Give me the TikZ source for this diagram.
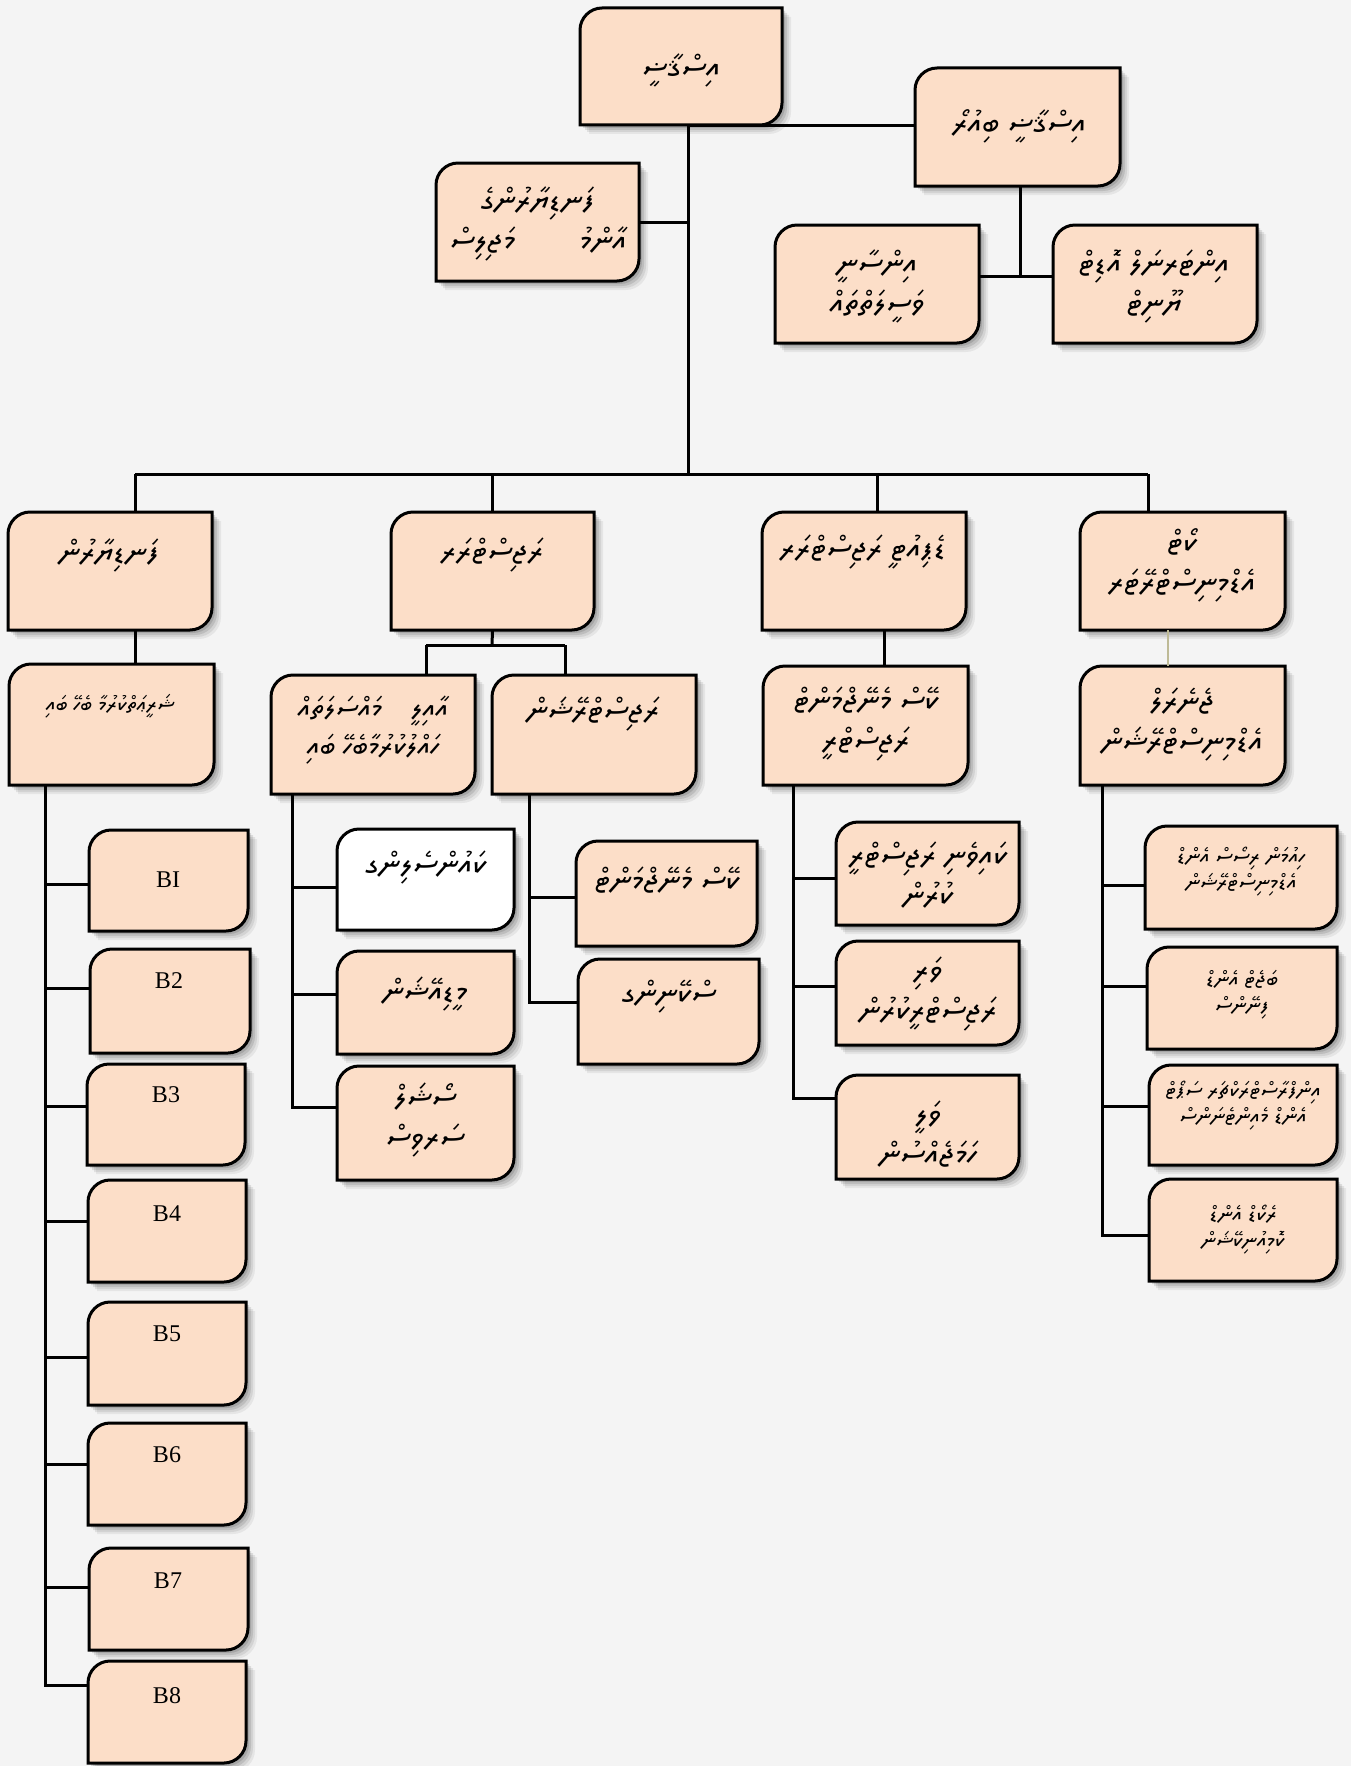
\documentclass[tikz,border=0pt]{standalone}
\usepackage{fontspec}
\setmainfont{Liberation Serif}
\IfFontExistsTF{FreeSerif.otf}{\newfontfamily\thaana{FreeSerif.otf}}{%
  \IfFontExistsTF{Noto Sans Thaana}{\newfontfamily\thaana{Noto Sans Thaana}}{\newfontfamily\thaana{DejaVu Sans}}}
\definecolor{pch}{RGB}{252,222,200}
\definecolor{bgc}{RGB}{244,244,244}
\definecolor{olv}{RGB}{190,186,150}
\newcommand\obox[6][pch]{%
  \foreach \s/\o in {9/0.06,7/0.08,5/0.10,3/0.12}{%
    \fill[black,opacity=\o,shift={(\s,\s)}] ({#3},{#4+22}) .. controls ({#3},{#4+10}) and ({#3+10},{#4}) .. ({#3+22},{#4}) -- ({#5},{#4}) -- ({#5},{#6-22}) .. controls ({#5},{#6-10}) and ({#5-10},{#6}) .. ({#5-22},{#6}) -- ({#3},{#6}) -- cycle;}
  \draw[bx,fill=#1] ({#3},{#4+22}) .. controls ({#3},{#4+10}) and ({#3+10},{#4}) .. ({#3+22},{#4}) -- ({#5},{#4}) -- ({#5},{#6-22}) .. controls ({#5},{#6-10}) and ({#5-10},{#6}) .. ({#5-22},{#6}) -- ({#3},{#6}) -- cycle;
  \node[inner sep=0pt,minimum width={0.5pt*(#5-#3)},minimum height={0.5pt*(#6-#4)}] (#2) at ({(#3+#5)/2},{(#4+#6)/2}) {};}
\tikzset{
  bx/.style={line width=1.5pt,draw=black},
  cn/.style={line width=1.5pt,draw=black},
  tx/.style={font=\thaana\fontsize{16}{20}\selectfont,align=center,inner sep=0pt},
  txm/.style={font=\thaana\fontsize{14.5}{19}\selectfont,align=center,inner sep=0pt},
  txs/.style={font=\thaana\fontsize{11}{13}\selectfont,align=center,inner sep=0pt},
  bl/.style={font=\fontsize{12}{14}\selectfont,inner sep=0pt}}
\begin{document}
\begin{tikzpicture}[x=0.5pt,y=-0.5pt]
\fill[bgc] (0,0) rectangle (1351,1766);
\useasboundingbox (0,0) rectangle (1351,1766);
% junctions
\coordinate (j0) at (688,474);
\coordinate (jr) at (1020,276);
\coordinate (mbL) at (135,474);
\coordinate (mbR) at (1148,474);
\coordinate (d3x) at (877,474);
\coordinate (s2) at (492,645);
\coordinate (s2a) at (426,645);
\coordinate (s2b) at (565,645);
\coordinate (d3y) at (884,630);
\coordinate (d4y) at (1168,630);
% boxes
\obox{T0}{580}{8}{782}{125}
\obox{R1}{915}{68}{1120}{186}
\obox{L1}{436}{163}{639}{281}
\obox{R2a}{775}{225}{979}{343}
\obox{R2b}{1053}{225}{1257}{343}
\obox{D1}{8}{512}{212}{630}
\obox{D2}{391}{512}{594}{630}
\obox{D3}{762}{512}{966}{630}
\obox{D4}{1080}{512}{1285}{630}
\obox{E1}{9}{664}{214}{785}
\obox{E2a}{271}{675}{475}{794}
\obox{E2b}{492}{675}{696}{794}
\obox{E3}{763}{666}{968}{785}
\obox{E4}{1080}{666}{1285}{785}
\obox[white]{F1}{337}{829}{514}{930}
\obox{F2}{337}{951}{514}{1054}
\obox{F3}{337}{1066}{514}{1180}
\obox{G1}{576}{841}{757}{946}
\obox{G2}{578}{959}{759}{1064}
\obox{H1}{836}{822}{1019}{925}
\obox{H2}{836}{941}{1019}{1045}
\obox{H3}{836}{1075}{1019}{1179}
\obox{I1}{1145}{826}{1337}{929}
\obox{I2}{1147}{947}{1337}{1049}
\obox{I3}{1149}{1065}{1337}{1165}
\obox{I4}{1149}{1179}{1337}{1281}
\obox{B1}{89}{830}{248}{931}
\obox{B2}{90}{949}{250}{1053}
\obox{B3}{87}{1064}{245}{1165}
\obox{B4}{88}{1180}{246}{1282}
\obox{B5}{88}{1302}{246}{1405}
\obox{B6}{88}{1423}{246}{1525}
\obox{B7}{89}{1548}{248}{1650}
\obox{B8}{88}{1661}{246}{1763}
% lines
\draw[cn] (T0.south -| j0) -- (j0);
\draw[cn] (T0.south -| j0) -- (T0.south -| R1.west);
\draw[cn] (L1.east) -- (L1.east -| j0);
\draw[cn] (R1.south -| jr) -- (jr);
\draw[cn] (R2a.east |- jr) -- (R2b.west |- jr);
\draw[cn] (mbL) -- (mbR);
\draw[cn] (mbL) -- (D1.north -| mbL);
\draw[cn] (j0 -| D2.north) -- (D2.north);
\draw[cn] (d3x) -- (D3.north -| d3x);
\draw[cn] (mbR) -- (D4.north -| mbR);
\draw[cn] (D1.south -| mbL) -- (E1.north -| mbL);
\draw[cn] (D2.south) -- (s2);
\draw[cn] (s2a) -- (s2b);
\draw[cn] (s2a) -- (E2a.north -| s2a);
\draw[cn] (s2b) -- (E2b.north -| s2b);
\draw[cn] (D3.south -| d3y) -- (E3.north -| d3y);
\draw[line width=1pt,olv] (D4.south -| d4y) -- (E4.north -| d4y);
% group E1
\draw[cn] (E1.south -| 45,0) -- (45,1685) -- (B8.west |- 45,1685);
\foreach \b/\yy in {B1/884,B2/988,B3/1106,B4/1221,B5/1357,B6/1464,B7/1587}{\draw[cn] (45,\yy) -- (\b.west |- 45,\yy);}
% group E2a
\draw[cn] (E2a.south -| 292,0) -- (292,1107) -- (F3.west |- 292,1107);
\draw[cn] (292,887) -- (F1.west |- 292,887);
\draw[cn] (292,994) -- (F2.west |- 292,994);
% group E2b
\draw[cn] (E2b.south -| 529,0) -- (529,1002) -- (G2.west |- 529,1002);
\draw[cn] (529,897) -- (G1.west |- 529,897);
% group E3
\draw[cn] (E3.south -| 793,0) -- (793,1098) -- (H3.west |- 793,1098);
\draw[cn] (793,878) -- (H1.west |- 793,878);
\draw[cn] (793,986) -- (H2.west |- 793,986);
% group E4
\draw[cn] (E4.south -| 1102,0) -- (1102,1235) -- (I4.west |- 1102,1235);
\draw[cn] (1102,885) -- (I1.west |- 1102,885);
\draw[cn] (1102,986) -- (I2.west |- 1102,986);
\draw[cn] (1102,1106) -- (I3.west |- 1102,1106);
% texts
\node[tx] (T0t) at (681,70) {އިސްޤާޟީ};
\node[tx] (R1t) at (1019,126) {ބިއުރޯ އިސްޤާޟީ};
\node[tx] (L1t) at (538,224) {ފަނޑިޔާރުންގެ\\މަޖިލިސް\qquad އާންމު};
\node[tx] (R2at) at (877,286) {އިންސާނީ\\ވަސީލަތްތައް};
\node[tx] (R2bt) at (1154,286) {އޮޑިޓް އިންޓަރނަލް\\ޔޫނިޓް};
\node[tx] (D1t) at (109,555) {ފަނޑިޔާރުން};
\node[tx] (D2t) at (492,555) {ރަޖިސްޓްރަރ};
\node[tx] (D3t) at (863,552) {ރަޖިސްޓްރަރ ޑެޕިއުޓީ};
\node[tx] (D4t) at (1182,565) {ކޯޓް\\އެޑްމިނިސްޓްރޭޓަރ};
\node[txs] (E1t) at (110,706) {ބައި ބެހޭ ޝަރީޢަތްކުރުމާ};
\node[txm] (E2at) at (373,730) {މައްސަލަތައް\quad އާއިލީ\\ބައި ހައްލުކުރުމާބެހޭ};
\node[tx] (E2bt) at (593,714) {ރަޖިސްޓްރޭޝަން};
\node[tx] (E3t) at (866,724) {މެނޭޖްމަންޓް ކޭސް\\ރަޖިސްޓްރީ};
\node[tx] (E4t) at (1182,724) {ޖެނެރަލް\\އެޑްމިނިސްޓްރޭޝަން};
\node[tx] (F1t) at (426,867) {ކައުންސެލިންގ};
\node[tx] (F2t) at (425,994) {މީޑިއޭޝަން};
\node[tx] (F3t) at (425,1120) {ސޯޝަލް\\ސަރވިސް};
\node[tx] (G1t) at (667,880) {މެނޭޖްމަންޓް ކޭސް};
\node[tx] (G2t) at (669,997) {ސްކޭނިންގ};
\node[tx] (H1t) at (928,875) {ރަޖިސްޓްރީ ކައިވެނި\\ކުރުން};
\node[tx] (H2t) at (928,994) {ވަރި\\ރަޖިސްޓްރީކުރުން};
\node[tx] (H3t) at (928,1134) {ވަލީ\\ހަމަޖެއްސުން};
\node[txs] (I1t) at (1241,872) {އެންޑް ރިސޯސް ހިއުމަން\\އެޑްމިނިސްޓްރޭޝަން};
\node[txs] (I2t) at (1242,995) {އެންޑް ބަޖެޓް\\ފިނޭންސް};
\node[txs] (I3t) at (1243,1106) {ސަޕޯޓް އިންފްރާސްޓްރަކްޗަރ\\މެއިންޓެނަންސް އެންޑް};
\node[txs] (I4t) at (1243,1230) {އެންޑް ރެކޯޑް\\ކޮމިއުނިކޭޝަން};
\node[bl] (B1t) at (168,880) {BI};
\node[bl] (B2t) at (169,981) {B2};
\node[bl] (B3t) at (166,1095) {B3};
\node[bl] (B4t) at (167,1214) {B4};
\node[bl] (B5t) at (167,1334) {B5};
\node[bl] (B6t) at (167,1455) {B6};
\node[bl] (B7t) at (168,1581) {B7};
\node[bl] (B8t) at (167,1696) {B8};
\end{tikzpicture}
\end{document}
